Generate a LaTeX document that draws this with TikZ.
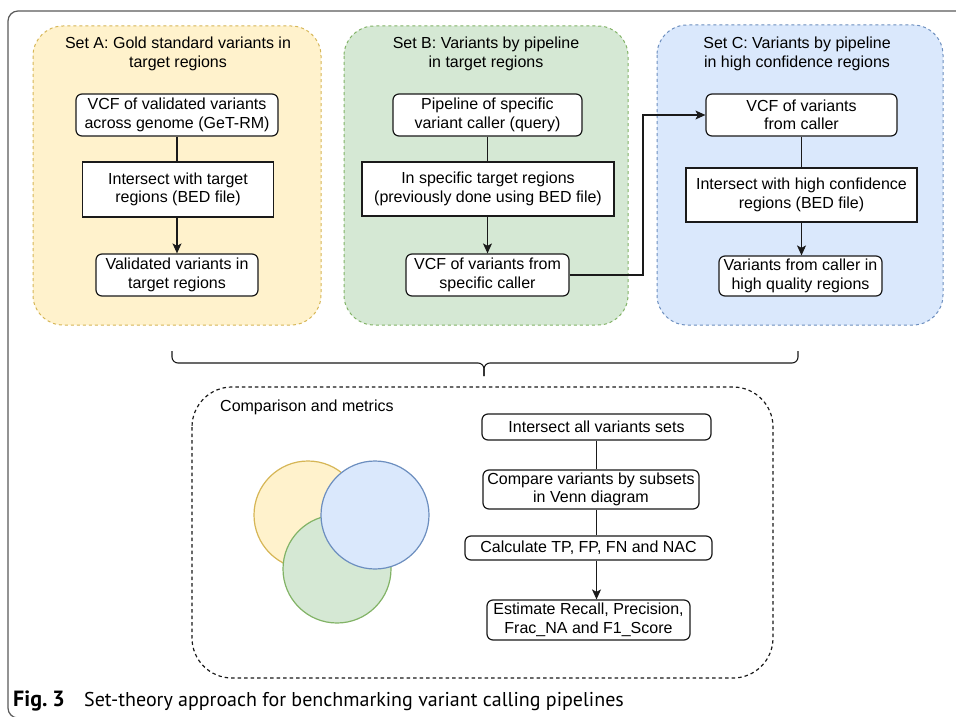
\documentclass[tikz,border=0pt]{standalone}
\usepackage{fontspec}
\setmainfont{Liberation Sans}
\newfontfamily\capfont{PT Sans}
\usetikzlibrary{arrows.meta}
\definecolor{yfill}{HTML}{FFF2CC}
\definecolor{ystroke}{HTML}{D6B656}
\definecolor{gfill}{HTML}{D5E8D4}
\definecolor{gstroke}{HTML}{82B366}
\definecolor{bfill}{HTML}{DAE8FC}
\definecolor{bstroke}{HTML}{6C8EBF}
\definecolor{linec}{HTML}{1A1A1A}
\definecolor{framec}{HTML}{5A5A5A}
\newcommand\dfont{\fontsize{16}{18.5}\selectfont}
\begin{document}
\begin{tikzpicture}[x=1pt,y=-1pt,
  box/.style={draw=linec, line width=1.2pt, fill=white, rounded corners=6pt, align=center, font=\dfont, inner sep=0pt},
  sbox/.style={box, rounded corners=0pt},
  panel/.style={dash pattern=on 3pt off 3pt, line width=1pt, rounded corners=30pt},
  conn/.style={draw=linec, line width=1.1pt},
  arr/.style={conn, -{Stealth[length=10pt,width=9pt,inset=2.5pt]}},
  ttl/.style={align=center, font=\dfont, inner sep=0pt},
  venn/.style={circle, line width=1.2pt, minimum size=108pt, inner sep=0pt},
]
\useasboundingbox (0,0) rectangle (956,717);
\clip (0,0) rectangle (956,717);
\fill[white] (0,0) rectangle (956,717);
% outer frame
\draw[framec, line width=1.2pt, rounded corners=10pt] (8,11) rectangle (975,718);

% panels
\draw[panel, draw=ystroke, fill=yfill] (33,26) rectangle (321,325);
\draw[panel, draw=gstroke, fill=gfill] (344,26) rectangle (628,325);
\draw[panel, draw=bstroke, fill=bfill] (657,25) rectangle (943,325);

% Set A
\node[ttl] (At) at (178,54) {Set A: Gold standard variants in\\target regions};
\node[box, minimum width=202pt, minimum height=42pt] (A1) at (177,115) {VCF of validated variants\\across genome (GeT-RM)};
\node[sbox, minimum width=191pt, minimum height=55pt] (A2) at (178,189.5) {Intersect with target\\regions (BED file)};
\node[box, minimum width=162pt, minimum height=42pt] (A3) at (177,275) {Validated variants in\\target regions};
\draw[conn] (A1.south) -- (A1.south |- A2.north);
\draw[arr] (A1.south |- A2.south) -- (A1.south |- A3.north);

% Set B
\node[ttl] (Bt) at (486,54) {Set B: Variants by pipeline\\in target regions};
\node[box, minimum width=189pt, minimum height=42pt] (B1) at (487.5,115) {Pipeline of specific\\variant caller (query)};
\node[sbox, minimum width=252pt, minimum height=54pt] (B2) at (488,189) {In specific target regions\\(previously done using BED file)};
\node[box, minimum width=163pt, minimum height=42pt] (B3) at (487.5,275) {VCF of variants from\\specific caller};
\draw[conn] (B1.south) -- (B1.south |- B2.north);
\draw[arr] (B1.south |- B2.south) -- (B1.south |- B3.north);

% Set C
\node[ttl] (Ct) at (797,54) {Set C: Variants by pipeline\\in high confidence regions};
\node[box, minimum width=191pt, minimum height=42pt] (C1) at (801.5,115) {VCF of variants\\from caller};
\node[sbox, minimum width=231pt, minimum height=54pt] (C2) at (801.5,195) {Intersect with high confidence\\regions (BED file)};
\node[box, minimum width=163pt, minimum height=40pt] (C3) at (800.5,276) {Variants from caller in\\high quality regions};
\draw[conn] (C1.south) -- (C1.south |- C2.north);
\draw[arr] (C1.south |- C2.south) -- (C1.south |- C3.north);

% B -> C connector
\coordinate (bend) at (643,275);
\draw[arr] (B3.east) -- (bend) |- (C1.west);

% brace
\draw[linec, line width=1.1pt, rounded corners=6pt] (172,351) -- (172,363) -- (484,363) -- (484,376);
\draw[linec, line width=1.1pt, rounded corners=6pt] (798,351) -- (798,363) -- (484,363) -- (484,376);

% comparison box
\draw[linec, line width=1.2pt, dash pattern=on 3.5pt off 3pt, rounded corners=40pt] (192,387) rectangle (773,678);
\node[anchor=west, font=\dfont, inner sep=0pt] (cmp) at (220,407) {Comparison and metrics};

% venn
\node[venn, draw=ystroke, fill=yfill] (vy) at (308,515) {};
\node[venn, draw=gstroke, fill=gfill] (vg) at (337,569) {};
\node[venn, draw=bstroke, fill=bfill] (vb) at (375,515) {};

% metrics flow
\node[box, minimum width=229pt, minimum height=26pt] (D1) at (596.5,427) {Intersect all variants sets};
\node[box, minimum width=216pt, minimum height=39pt] (D2) at (591,489.5) {Compare variants by subsets\\in Venn diagram};
\node[box, minimum width=247pt, minimum height=24pt] (D3) at (588.5,548) {Calculate TP, FP, FN and NAC};
\node[box, minimum width=203pt, minimum height=40pt] (D4) at (588.5,620) {Estimate Recall, Precision,\\Frac\_NA and F1\_Score};
\draw[conn] (D1.south) -- (D1.south |- D2.north);
\draw[conn] (D1.south |- D2.south) -- (D1.south |- D3.north);
\draw[arr] (D1.south |- D3.south) -- (D1.south |- D4.north);

% caption
\node[anchor=base west, inner sep=0pt, font=\capfont\bfseries\fontsize{22}{24}\selectfont] (figl) at (13,706) {Fig.\hspace{5pt}3};
\node[anchor=base west, inner sep=0pt, font=\capfont\fontsize{20}{22}\selectfont] (cap) at (84,706) {Set-theory approach for benchmarking variant calling pipelines};
\end{tikzpicture}
\end{document}
